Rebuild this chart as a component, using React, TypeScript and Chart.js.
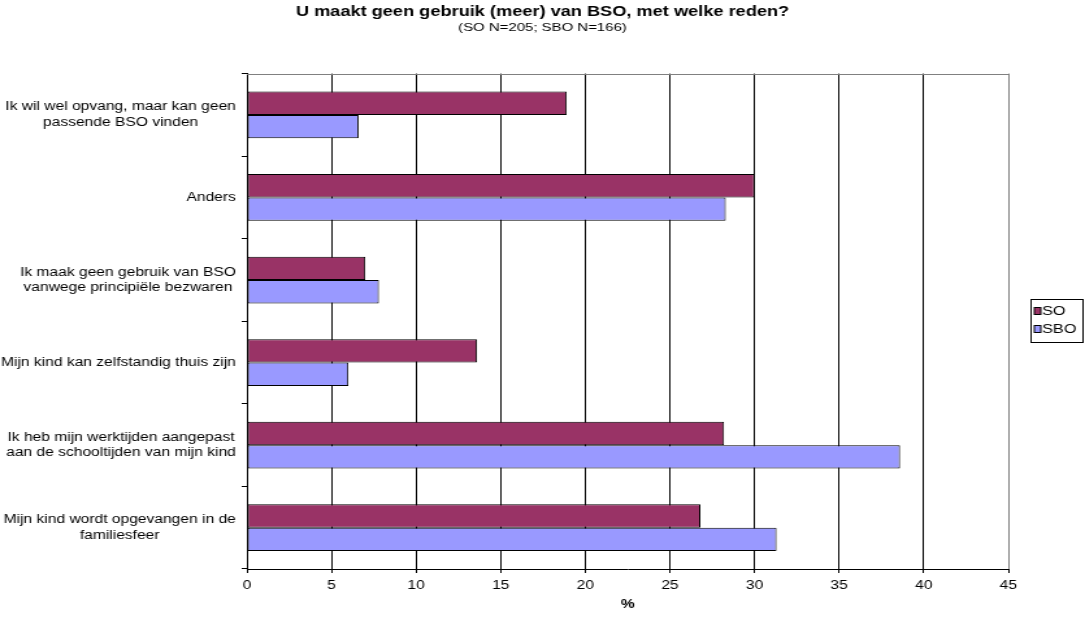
import React, { useEffect, useRef } from "react";
import { Chart, registerables } from "chart.js";

Chart.register(...registerables);

// ---------- data ----------
const TITLE = "U maakt geen gebruik (meer) van BSO, met welke reden?";
const SUBTITLE = "(SO N=205; SBO N=166)";
const X_TITLE = "%";

const categories: (string | string[])[] = [
  ["Ik wil wel opvang, maar kan geen", "passende BSO vinden"],
  "Anders",
  ["Ik maak geen gebruik van BSO", "vanwege principiële bezwaren"],
  "Mijn kind kan zelfstandig thuis zijn",
  ["Ik heb mijn werktijden aangepast", "aan de schooltijden van mijn kind"],
  ["Mijn kind wordt opgevangen in de", "familiesfeer"],
];

const seriesNames = ["SO", "SBO"];
const soValues = [18.9, 30.0, 7.0, 13.6, 28.2, 26.8];
const sboValues = [6.6, 28.3, 7.8, 6.0, 38.6, 31.3];
const seriesColors = ["#993366", "#9999FF"];

const xMin = 0;
const xMax = 45;
const xStep = 5;

// ---------- layout ----------
const FINAL_W = 1085;
const H = 623;
const W = 835; // canvas drawn narrower and stretched horizontally like the reference
const STRETCH = FINAL_W / W;
const FONT = "'Liberation Sans', Arial, sans-serif";

const topBorderPlugin = {
  id: "topBorder",
  afterDraw(chart: any) {
    const { ctx, chartArea } = chart;
    ctx.save();
    ctx.strokeStyle = "#808080";
    ctx.lineWidth = 1;
    ctx.beginPath();
    ctx.moveTo(chartArea.left, Math.round(chartArea.top) + 0.5);
    ctx.lineTo(chartArea.right, Math.round(chartArea.top) + 0.5);
    ctx.stroke();
    ctx.restore();
  },
};

const yLabelsPlugin = {
  id: "yLabels",
  afterDraw(chart: any) {
    const { ctx } = chart;
    const yScale = chart.scales.y;
    const rightEdge = yScale.right - 8.5;
    const lineH = 15.5;
    ctx.save();
    ctx.font = `12px ${FONT}`;
    ctx.fillStyle = "#000";
    ctx.textBaseline = "middle";
    ctx.textAlign = "center";
    (chart.data.labels as (string | string[])[]).forEach((lab, i) => {
      const lines = Array.isArray(lab) ? lab : [lab];
      const widest = Math.max(...lines.map((l) => ctx.measureText(l).width));
      const cx = rightEdge - widest / 2;
      const cy = yScale.getPixelForValue(i);
      const startY = cy - ((lines.length - 1) * lineH) / 2;
      lines.forEach((l, j) => ctx.fillText(l, cx, startY + j * lineH));
    });
    ctx.restore();
  },
};

const legendBoxPlugin = {
  id: "legendBox",
  afterDraw(chart: any) {
    const { ctx } = chart;
    const left = 793.5;
    const top = 299.5;
    const width = 40;
    const height = 43;
    ctx.save();
    ctx.strokeStyle = "#000";
    ctx.lineWidth = 1;
    ctx.strokeRect(left, top, width, height);
    ctx.font = `12.5px ${FONT}`;
    ctx.textBaseline = "middle";
    ctx.textAlign = "left";
    const rows = [311, 329];
    chart.data.datasets.forEach((ds: any, i: number) => {
      const y = rows[i];
      ctx.fillStyle = ds.backgroundColor;
      ctx.fillRect(796, y - 3.5, 5, 7);
      ctx.strokeStyle = "#000";
      ctx.strokeRect(796, y - 3.5, 5, 7);
      ctx.fillStyle = "#000";
      ctx.fillText(ds.label, 802, y + 0.5);
    });
    ctx.restore();
  },
};

export default function App() {
  const canvasRef = useRef<HTMLCanvasElement | null>(null);

  useEffect(() => {
    const canvas = canvasRef.current;
    if (!canvas) return;
    Chart.defaults.color = "#000";
    Chart.defaults.font.family = FONT;

    const chart = new Chart(canvas, {
      type: "bar",
      data: {
        labels: categories as any,
        datasets: [
          {
            label: seriesNames[0],
            data: soValues,
            backgroundColor: seriesColors[0],
            borderColor: "#000",
            borderWidth: 1,
            borderSkipped: false,
            categoryPercentage: 0.566,
            barPercentage: 1.0,
          },
          {
            label: seriesNames[1],
            data: sboValues,
            backgroundColor: seriesColors[1],
            borderColor: "#000",
            borderWidth: 1,
            borderSkipped: false,
            categoryPercentage: 0.566,
            barPercentage: 1.0,
          },
        ],
      },
      options: {
        indexAxis: "y",
        responsive: false,
        animation: false,
        devicePixelRatio: 1,
        layout: { padding: { left: 59, right: 59, top: 0, bottom: 0 } },
        plugins: {
          legend: { display: false },
          tooltip: { enabled: false },
          title: {
            display: true,
            text: TITLE,
            color: "#000",
            font: { size: 14, weight: "bold", family: FONT },
            padding: { top: 4, bottom: 0 },
          },
          subtitle: {
            display: true,
            text: SUBTITLE,
            color: "#000",
            font: { size: 11.5, family: FONT },
            padding: { top: 0, bottom: 39 },
          },
        },
        scales: {
          x: {
            type: "linear",
            position: "bottom",
            min: xMin,
            max: xMax,
            ticks: {
              stepSize: xStep,
              font: { size: 12, family: FONT },
              color: "#000",
              padding: 5,
              maxRotation: 0,
            },
            grid: {
              color: (c: any) => (c.tick && c.tick.value === xMax ? "#808080" : "#000"),
              tickColor: "#000",
              lineWidth: 1,
              tickLength: 4,
              drawTicks: true,
            },
            border: { display: true, color: "#000", width: 1 },
            title: {
              display: true,
              text: X_TITLE,
              color: "#000",
              font: { size: 12, weight: "bold", family: FONT },
              padding: { top: 0, bottom: 11 },
            },
            afterFit: (scale: any) => {
              scale.height = 54;
            },
          },
          y: {
            type: "category",
            position: "left",
            offset: true,
            ticks: { display: false },
            grid: {
              offset: true,
              drawOnChartArea: false,
              drawTicks: true,
              tickLength: 4,
              color: "#000",
            },
            border: { display: true, color: "#000", width: 1 },
            afterFit: (scale: any) => {
              scale.width = 131;
            },
          },
        },
      },
      plugins: [topBorderPlugin, yLabelsPlugin, legendBoxPlugin],
    } as any);

    return () => chart.destroy();
  }, []);

  return (
    <div
      style={{
        position: "absolute",
        left: 0,
        top: 0,
        width: FINAL_W,
        height: H,
        overflow: "hidden",
        background: "#fff",
      }}
    >
      <canvas
        ref={canvasRef}
        width={W}
        height={H}
        style={{
          display: "block",
          width: `${W}px`,
          height: `${H}px`,
          transform: `scale(${STRETCH}, 1)`,
          transformOrigin: "0 0",
        }}
      />
    </div>
  );
}
